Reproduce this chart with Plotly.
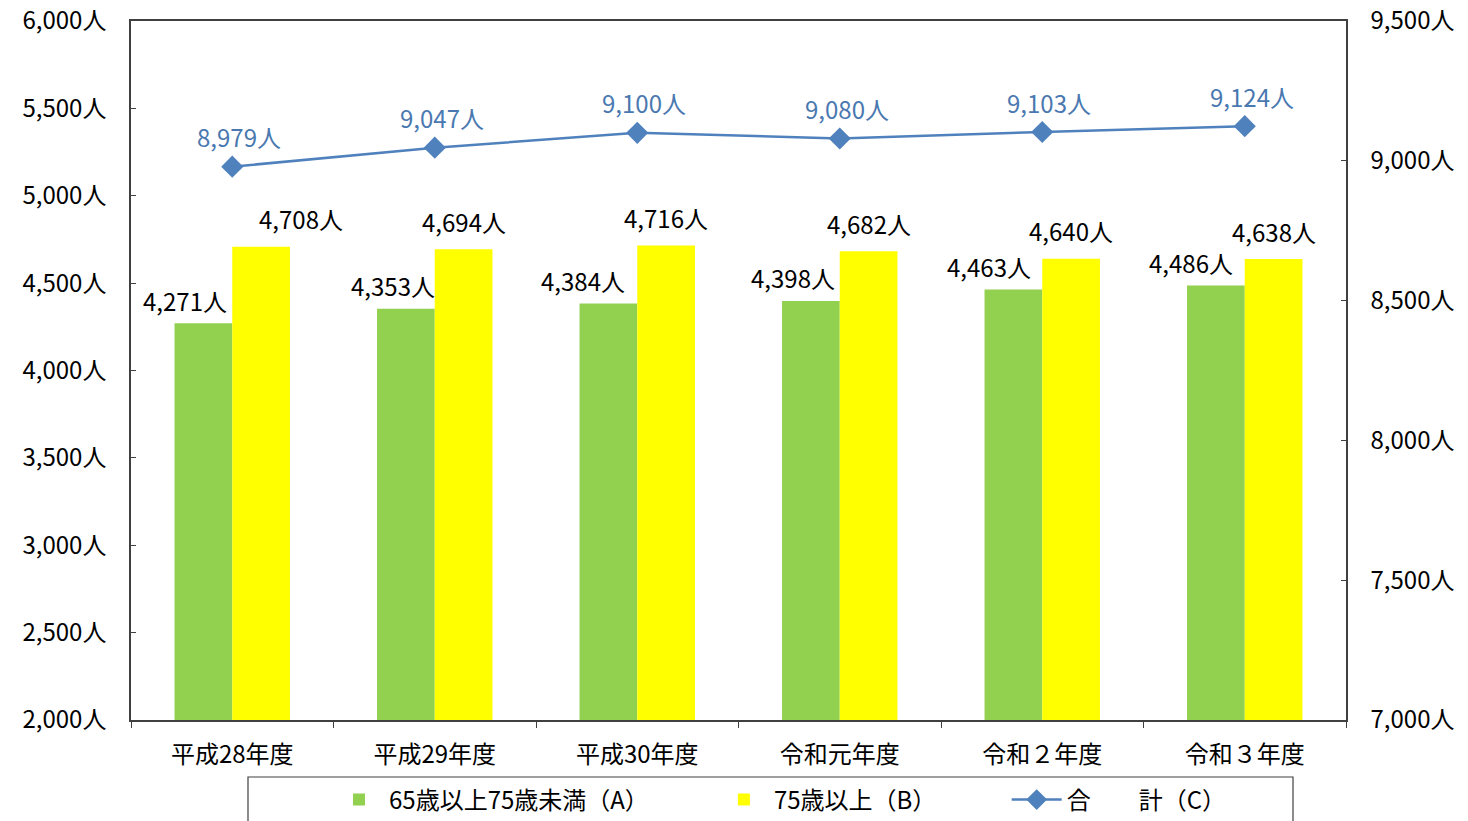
import plotly.graph_objects as go

categories = ["平成28年度", "平成29年度", "平成30年度", "令和元年度", "令和２年度", "令和３年度"]
under75 = [4271, 4353, 4384, 4398, 4463, 4486]
over75 = [4708, 4694, 4716, 4682, 4640, 4638]
total = [8979, 9047, 9100, 9080, 9103, 9124]
left_ticks = [2000, 2500, 3000, 3500, 4000, 4500, 5000, 5500, 6000]
right_ticks = [7000, 7500, 8000, 8500, 9000, 9500]

name_a = "65歳以上75歳未満（A）"
name_b = "75歳以上（B）"
name_c = "合　　計（C）"

W, H = 1468, 821
ML, MR, MT, MB = 131, 122, 21, 101
PW, PH = W - ML - MR, H - MT - MB
cat_px = PW / len(categories)
BARGAP = 0.43
bar_w = (1 - BARGAP) / 2

FONT = "Noto Sans CJK JP"
FS = 24
GREEN = "#92D050"
YELLOW = "#FFFF00"
BLUE = "#4F81BD"
BLUE_TXT = "#4A78B0"
AXIS = "#404040"

fig = go.Figure()
fig.add_trace(go.Bar(x=categories, y=under75, name=name_a + "\u3000\u3000\u3000",
                     marker=dict(color=GREEN, line=dict(width=0))))
fig.add_trace(go.Bar(x=categories, y=over75, name=name_b + "\u3000\u3000\u3000 ",
                     marker=dict(color=YELLOW, line=dict(width=0))))
fig.add_trace(go.Scatter(x=categories, y=total, name=name_c, yaxis="y2",
                         mode="lines+markers",
                         line=dict(color=BLUE, width=2.5),
                         marker=dict(symbol="diamond", size=17, color=BLUE)))

annotations = []
green_dx = [-18, -13, -25, -18, -24, -25]
yellow_dx = [40, 0, 0, 0, 0, 0]
for i, c in enumerate(categories):
    annotations.append(dict(x=c, y=under75[i], xref="x", yref="y",
                            text=f"{under75[i]:,}人", showarrow=False,
                            xshift=-bar_w / 2 * cat_px + green_dx[i], yshift=23,
                            font=dict(family=FONT, size=FS, color="black")))
    annotations.append(dict(x=c, y=over75[i], xref="x", yref="y",
                            text=f"{over75[i]:,}人", showarrow=False,
                            xshift=bar_w / 2 * cat_px + yellow_dx[i], yshift=28,
                            font=dict(family=FONT, size=FS, color="black")))
    annotations.append(dict(x=c, y=total[i], xref="x", yref="y2",
                            text=f"{total[i]:,}人", showarrow=False,
                            xshift=7, yshift=30,
                            font=dict(family=FONT, size=FS, color=BLUE_TXT)))

# legend frame (paper coordinates)
box_l, box_r, box_t = 248, 1293, 777
shapes = [dict(type="rect", xref="paper", yref="paper",
               x0=(box_l - ML) / PW, x1=(box_r - ML) / PW,
               y0=(MT + PH - box_t) / PH, y1=(MT + PH - 840) / PH,
               line=dict(color=AXIS, width=1.2), fillcolor="rgba(0,0,0,0)", layer="above")]

fig.update_layout(
    width=W, height=H,
    margin=dict(l=ML, r=MR, t=MT, b=MB, pad=0, autoexpand=False),
    paper_bgcolor="white", plot_bgcolor="white",
    barmode="group", bargap=BARGAP, bargroupgap=0,
    font=dict(family=FONT, size=FS, color="black"),
    showlegend=True,
    legend=dict(orientation="h", x=(329 - ML) / PW, xanchor="left",
                y=(MT + PH - 800) / PH, yanchor="middle",
                borderwidth=0, bgcolor="rgba(0,0,0,0)",
                font=dict(family=FONT, size=FS, color="black"),
                itemwidth=50, traceorder="normal"),
    xaxis=dict(type="category", showline=True, linecolor=AXIS, linewidth=1.5, mirror=True,
               ticks="outside", ticklen=6, tickcolor=AXIS, tickson="boundaries",
               showgrid=False, ticklabelstandoff=12,
               tickfont=dict(family=FONT, size=FS, color="black")),
    yaxis=dict(range=[2000, 6000], tickmode="array", tickvals=left_ticks,
               ticktext=[f"{v:,}人" for v in left_ticks], ticklabeloverflow="allow",
               showline=True, linecolor=AXIS, linewidth=1.5, ticks="inside", ticklen=5,
               tickcolor=AXIS, showgrid=False, zeroline=False, ticklabelstandoff=18,
               tickfont=dict(family=FONT, size=FS, color="black")),
    yaxis2=dict(range=[7000, 9500], tickmode="array", tickvals=right_ticks,
                ticktext=[f"{v:,}人" for v in right_ticks], ticklabeloverflow="allow",
                overlaying="y", side="right",
                showline=True, linecolor=AXIS, linewidth=1.5, ticks="inside", ticklen=5,
                tickcolor=AXIS, showgrid=False, zeroline=False, ticklabelstandoff=18,
                tickfont=dict(family=FONT, size=FS, color="black")),
    annotations=annotations,
    shapes=shapes,
)

fig.write_html("out.html")
